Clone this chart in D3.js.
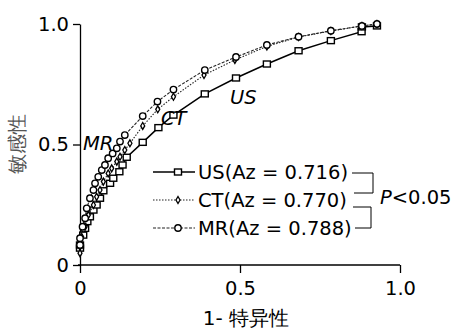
<!DOCTYPE html>
<html>
  <head>
    <meta charset="utf-8">
    <script src="https://cdn.jsdelivr.net/npm/d3@7"></script>
    <style>
      body { margin: 0; background: #fff; }
      text { font-family: "DejaVu Sans", Tahoma, sans-serif; fill: #000; }
    </style>
  </head>
  <body>
    <svg id="roc" width="455" height="334"></svg>
    <script>
    // ROC points (1-specificity, sensitivity)
    var usX = [0, 0, 0.01, 0.016, 0.023, 0.031, 0.042, 0.052, 0.0625, 0.073, 0.094, 0.104, 0.123, 0.133, 0.146, 0.196, 0.245, 0.292, 0.39, 0.4875, 0.584, 0.683, 0.784, 0.88, 0.881, 0.928];
    var usY = [0.07, 0.083, 0.124, 0.152, 0.18, 0.2, 0.228, 0.249, 0.277, 0.308, 0.339, 0.36, 0.387, 0.415, 0.447, 0.509, 0.57, 0.622, 0.71, 0.776, 0.834, 0.889, 0.931, 0.968, 0.988, 0.992];
    var ctX = [0, 0, 0.005, 0.016, 0.026, 0.042, 0.052, 0.0625, 0.073, 0.088, 0.099, 0.115, 0.125, 0.14, 0.156, 0.196, 0.243, 0.292, 0.3875, 0.484, 0.584, 0.683, 0.784, 0.881, 0.928];
    var ctY = [0.049, 0.076, 0.117, 0.159, 0.207, 0.249, 0.283, 0.311, 0.346, 0.38, 0.401, 0.429, 0.449, 0.477, 0.505, 0.577, 0.646, 0.698, 0.788, 0.851, 0.907, 0.946, 0.971, 0.992, 1.0];
    var mrX = [0, 0, 0.008, 0.016, 0.021, 0.031, 0.042, 0.047, 0.057, 0.068, 0.078, 0.088, 0.102, 0.115, 0.125, 0.14, 0.196, 0.242, 0.292, 0.39, 0.4875, 0.584, 0.683, 0.784, 0.881, 0.928];
    var mrY = [0.083, 0.111, 0.159, 0.194, 0.235, 0.277, 0.311, 0.339, 0.366, 0.394, 0.415, 0.443, 0.463, 0.484, 0.512, 0.539, 0.618, 0.678, 0.728, 0.809, 0.863, 0.913, 0.947, 0.972, 0.992, 1.0];

    var seriesNames = ["US", "CT", "MR"];
    var legendLabels = ["US(Az = 0.716)", "CT(Az = 0.770)", "MR(Az = 0.788)"];
    var tickVals = [0, 0.5, 1];
    var tickText = ["0", "0.5", "1.0"];

    var svg = d3.select("#roc");
    var x = d3.scaleLinear().domain([0, 1]).range([80, 400]);
    var y = d3.scaleLinear().domain([0, 1]).range([265, 24]);

    function fmt(d){ return tickText[tickVals.indexOf(d)]; }

    var xAxis = svg.append("g").attr("transform", "translate(0,265)")
      .call(d3.axisBottom(x).tickValues(tickVals).tickFormat(fmt).tickSize(8).tickPadding(8).tickSizeOuter(0));
    var yAxis = svg.append("g").attr("transform", "translate(80,0)")
      .call(d3.axisLeft(y).tickValues(tickVals).tickFormat(fmt).tickSize(7).tickPadding(4).tickSizeOuter(0));
    svg.selectAll(".domain, .tick line").attr("stroke", "#000").attr("stroke-width", 1.3);
    svg.selectAll(".tick text").style("font-size", "19.5px").style("font-family", "DejaVu Sans, Tahoma, sans-serif");
    xAxis.select(".domain").attr("d", "M78,0H400");

    svg.append("text").attr("x", 246).attr("y", 325).attr("text-anchor", "middle")
      .style("font-size", "20px").text("1- 特异性");
    svg.append("text").attr("transform", "translate(24,144) rotate(-90)").attr("text-anchor", "middle")
      .style("font-size", "20px").style("fill", "#555").text("敏感性");

    var styles = {
      US: { dash: null, color: "#000", width: 1.5 },
      CT: { dash: "1.5,1.5", color: "#222", width: 1.1 },
      MR: { dash: "3,1.5", color: "#222", width: 1.1 }
    };
    var data = {
      US: d3.zip(usX, usY),
      CT: d3.zip(ctX, ctY),
      MR: d3.zip(mrX, mrY)
    };
    var line = d3.line().x(function(d){ return x(d[0]); }).y(function(d){ return y(d[1]); });

    function marker(g, name, cx, cy){
      if(name === "US"){
        g.append("rect").attr("x", cx - 3.5).attr("y", cy - 3).attr("width", 7).attr("height", 6)
          .attr("fill", "#fff").attr("stroke", "#000").attr("stroke-width", 1.4);
      } else if(name === "CT"){
        g.append("path").attr("d", d3.symbol(d3.symbolDiamond, 14)())
          .attr("transform", "translate(" + cx + "," + cy + ")")
          .attr("fill", "#fff").attr("stroke", "#000").attr("stroke-width", 1.3);
      } else {
        g.append("circle").attr("cx", cx).attr("cy", cy).attr("r", 3.2)
          .attr("fill", "#fff").attr("stroke", "#000").attr("stroke-width", 1.4);
      }
    }

    ["US", "CT", "MR"].forEach(function(name){
      var s = styles[name];
      var g = svg.append("g");
      g.append("path").datum(data[name]).attr("d", line).attr("fill", "none")
        .attr("stroke", s.color).attr("stroke-width", s.width).attr("stroke-dasharray", s.dash);
      data[name].forEach(function(d){ marker(g, name, x(d[0]), y(d[1])); });
    });

    // curve labels
    var curveLabels = [["US", 230, 104], ["CT", 161, 125], ["MR", 83, 150]];
    curveLabels.forEach(function(c){
      svg.append("text").attr("x", c[1]).attr("y", c[2]).style("font-size", "19.5px")
        .style("font-style", "italic").text(c[0]);
    });

    // legend
    var legY = [172, 200, 228];
    seriesNames.forEach(function(name, i){
      var s = styles[name];
      var g = svg.append("g");
      g.append("line").attr("x1", 153).attr("x2", 195).attr("y1", legY[i]).attr("y2", legY[i])
        .attr("stroke", s.color).attr("stroke-width", s.width).attr("stroke-dasharray", s.dash);
      marker(g, name, 178, legY[i]);
      g.append("text").attr("x", 198).attr("y", legY[i] + 7).style("font-size", "19.5px").text(legendLabels[i]);
    });

    // significance brackets
    svg.append("path").attr("d", "M352,173H373V193H354").attr("fill", "none").attr("stroke", "#000").attr("stroke-width", 1);
    svg.append("path").attr("d", "M353,207H371V228H355").attr("fill", "none").attr("stroke", "#000").attr("stroke-width", 1);
    var p = svg.append("text").attr("x", 380).attr("y", 204).style("font-size", "19.5px");
    p.append("tspan").style("font-style", "italic").text("P");
    p.append("tspan").text("<0.05");
    </script>
  </body>
</html>
